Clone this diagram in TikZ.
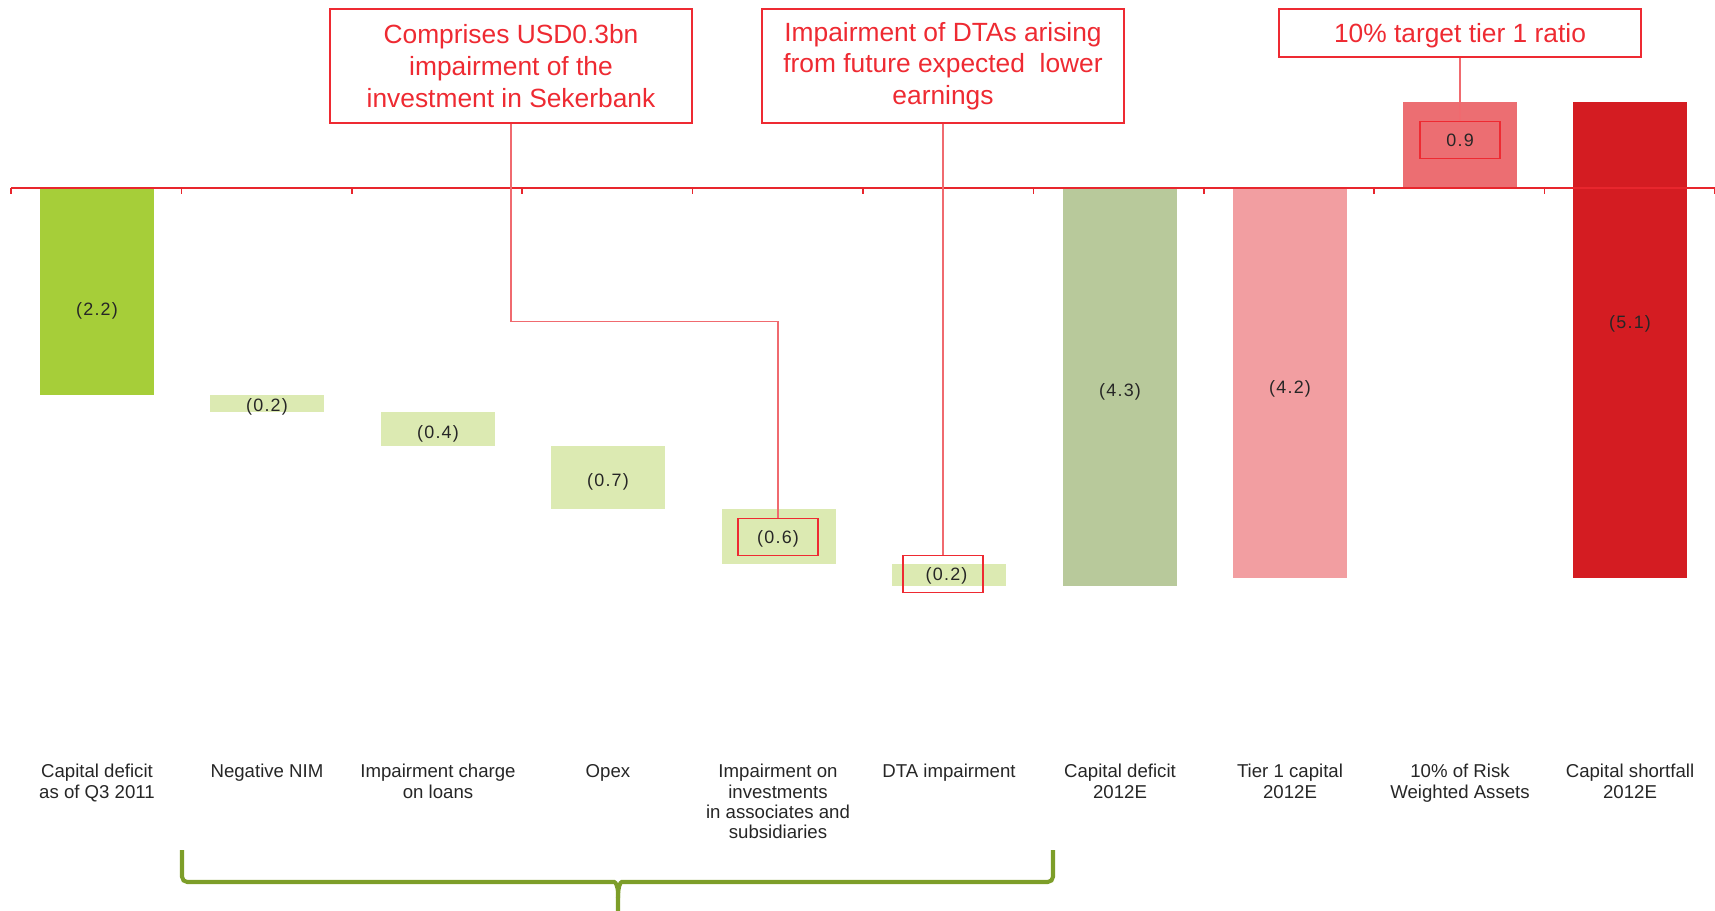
\documentclass[tikz,border=0pt]{standalone}
\usepackage{fontspec}
\setmainfont{Liberation Sans}
\newfontfamily\valfont[LetterSpace=7]{Liberation Sans}
\usetikzlibrary{positioning}
\definecolor{barlime}{HTML}{A6CE39}
\definecolor{barpale}{HTML}{DCEAB2}
\definecolor{barsage}{HTML}{B8C99B}
\definecolor{barpink}{HTML}{F29EA1}
\definecolor{barcoral}{HTML}{EC6E72}
\definecolor{barcrimson}{HTML}{D41C22}
\definecolor{axisred}{HTML}{E8262D}
\definecolor{notered}{HTML}{EE2A32}
\definecolor{linkred}{HTML}{F06A6F}
\definecolor{braceolive}{HTML}{7D9E29}
\tikzset{
  notebox/.style={rectangle, draw=notered, line width=1pt, text=notered,
                  minimum width=7.24cm, minimum height=#1, align=center,
                  font=\fontsize{15}{18}\selectfont},
  notebox/.default=2.275cm,
  val/.style={font=\valfont\fontsize{10.2}{12}\selectfont, text=black!85,
              inner sep=0pt, text depth=0pt},
  valframe/.style={val, draw=notered, line width=0.8pt,
                   minimum width=1.6cm, minimum height=0.74cm},
  cat/.style={anchor=north, align=center, inner sep=0pt, text=black!85,
              font=\fontsize{10.6}{11.6}\selectfont},
  link/.style={draw=linkred, line width=0.6pt},
  brace/.style={draw=braceolive, line width=2.3pt, rounded corners=3pt},
}

\begin{document}
\begin{tikzpicture}[x=0.02cm, y=-0.02cm]
  \useasboundingbox (0,0) rectangle (1715,910);

  % bars
  \foreach \cx/\ytop/\ybot/\col in {97/188/395/barlime, 267/395/412/barpale,
      438/412/446/barpale, 608/446/509/barpale, 779/509/564/barpale,
      949/564/586/barpale, 1120/188/586/barsage, 1290/188/578/barpink,
      1460/102/188/barcoral, 1630/102/578/barcrimson}
    \fill[\col] (\cx-57,\ytop) rectangle (\cx+57,\ybot);

  % axis
  \draw[axisred, line width=1.4pt] (11,188) -- (1715,188);
  \foreach \i in {0,...,10}
    \draw[axisred, line width=1pt] ({11+170.4*\i},188) -- ++(0,6);

  % values
  \node[val] (v1) at (97,309) {(2.2)};
  \node[val] (v2) at (267,405) {(0.2)};
  \node[val] (v3) at (438,432) {(0.4)};
  \node[val] (v4) at (608,480) {(0.7)};
  \node[valframe] (v5) at (778,537) {(0.6)};
  \node[valframe] (v6) at (943,574) {\hspace{4pt}(0.2)};
  \node[val] (v7) at (1120,390) {(4.3)};
  \node[val] (v8) at (1290,387) {(4.2)};
  \node[valframe] (v9) at (1460,140) {0.9};
  \node[val] (v10) at (1630,322) {(5.1)};

  % categories
  \node[cat] (c1) at (97,764) {Capital deficit\\as of Q3 2011};
  \node[cat] (c2) at (267,764) {Negative NIM};
  \node[cat] (c3) at (438,764) {Impairment charge\\on loans};
  \node[cat] (c4) at (608,764) {Opex};
  \node[cat] (c5) at (778,764) {Impairment on\\investments\\in associates and\\subsidiaries};
  \node[cat] (c6) at (949,764) {DTA impairment};
  \node[cat] (c7) at (1120,764) {Capital deficit\\2012E};
  \node[cat] (c8) at (1290,764) {Tier 1 capital\\2012E};
  \node[cat] (c9) at (1460,764) {10\% of Risk\\Weighted Assets};
  \node[cat] (c10) at (1630,764) {Capital shortfall\\2012E};

  % notes
  \node[notebox] (sekerbank) at (511,66) {Comprises USD0.3bn\\impairment of the\\investment in Sekerbank};
  \node[notebox] (dta) at (943,66) {Impairment of DTAs arising\\from future expected~ lower\\earnings};
  \node[notebox=0.96cm, text depth=0pt] (target) at (1460,33) {10\% target tier 1 ratio};

  \draw[link] (sekerbank.south) -- ++(0,198) -| (v5.north);
  \draw[link] (dta.south) -- (v6.north);
  \draw[link] (target.south) -- (v9.north);

  % brace under the drivers
  \draw[brace] (182,850) -- (182,882) -- (609,882) .. controls (616,882) and (618,888) .. (618,898) -- (618,915);
  \draw[brace] (1053,850) -- (1053,882) -- (627,882) .. controls (620,882) and (618,888) .. (618,898);
\end{tikzpicture}
\end{document}
